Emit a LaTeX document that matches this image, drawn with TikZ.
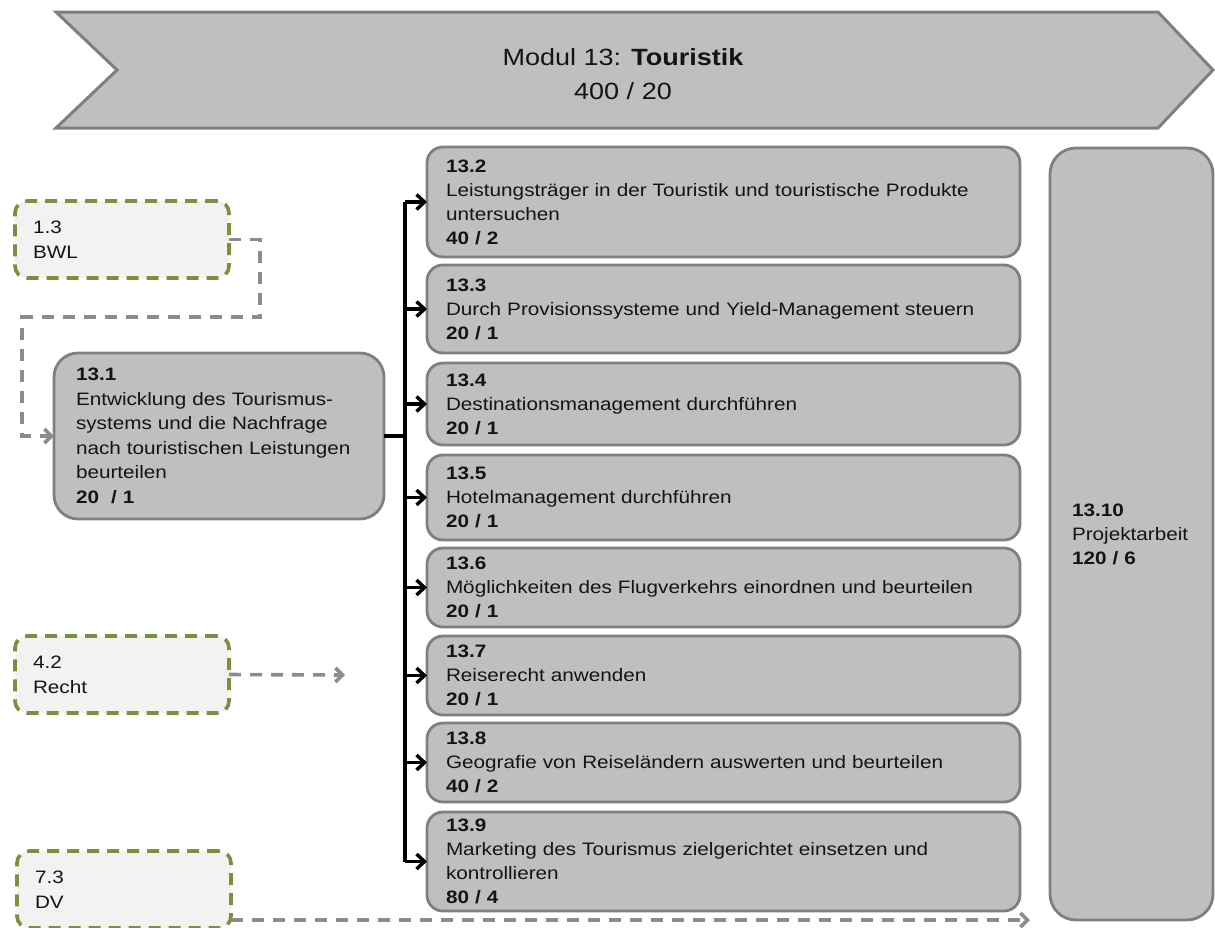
\documentclass[tikz,border=0pt]{standalone}
\usepackage{fontspec}
\setmainfont{Liberation Sans}[FakeStretch=1.15]
\usetikzlibrary{arrows.meta,calc}

\definecolor{boxfill}{HTML}{BFBFBF}
\definecolor{boxline}{HTML}{7F7F7F}
\definecolor{extfill}{HTML}{F2F2F2}
\definecolor{extline}{HTML}{76923C}
\definecolor{dashgray}{HTML}{8C8C8C}
\definecolor{txt}{HTML}{141414}

\begin{document}
\begin{tikzpicture}[x=1pt,y=-1pt,
  banner/.style={draw=boxline, fill=boxfill, line width=3pt, line join=miter},
  modbox/.style={draw=boxline, fill=boxfill, line width=2.8pt, rounded corners=16pt,
    anchor=north west, align=left, inner xsep=19pt, inner ysep=0pt, outer sep=0pt,
    text width=555pt, font=\fontsize{18}{24}\selectfont, text=txt},
  extbox/.style={draw=extline, fill=extfill, line width=3.6pt, dash pattern=on 12pt off 8pt,
    rounded corners=12pt, anchor=north west, align=left, inner xsep=18pt, inner ysep=0pt,
    outer sep=0pt, text width=178pt, minimum height=77pt,
    font=\fontsize{18}{25}\selectfont, text=txt},
  depline/.style={draw=dashgray, line width=3.6pt, dash pattern=on 12pt off 9pt,
    -{Straight Barb[length=7pt,width=14pt]}},
  flow/.style={draw=black, line width=3.4pt},
  flowarrow/.style={flow, -{Straight Barb[length=8pt,width=15pt]}}
]
\useasboundingbox (0,0) rectangle (1215,927);

% module banner
\draw[banner] (56,12) -- (1158,12) -- (1213,70) -- (1158,128) -- (56,128) -- (117,70) -- cycle;
\node[align=center, font=\fontsize{23.5}{34}\selectfont, text=txt] (title) at (623,74)
  {Modul 13: \textbf{Touristik}\\400 / 20};

% prerequisite modules
\node[extbox] (bwl) at (15,201) {1.3\\BWL};
\node[extbox] (recht) at (15,636) {4.2\\Recht};
\node[extbox] (dv) at (17,851) {7.3\\DV};

% entry unit
\node[modbox, rounded corners=24pt, inner xsep=22pt, text width=286pt, minimum height=166pt,
  font=\fontsize{18}{24.5}\selectfont] (m1) at (54,353)
  {\textbf{13.1}\\Entwicklung des Tourismus-\\systems und die Nachfrage\\nach touristischen Leistungen\\beurteilen\\\textbf{20 \ / 1}};

% units 13.2 -- 13.9
\node[modbox, minimum height=110pt] (m2) at (427,147)
  {\textbf{13.2}\\Leistungsträger in der Touristik und touristische Produkte\\untersuchen\\\textbf{40 / 2}};
\node[modbox, minimum height=88pt] (m3) at (427,265)
  {\textbf{13.3}\\Durch Provisionssysteme und Yield-Management steuern\\\textbf{20 / 1}};
\node[modbox, minimum height=82pt] (m4) at (427,363)
  {\textbf{13.4}\\Destinationsmanagement durchführen\\\textbf{20 / 1}};
\node[modbox, minimum height=85pt] (m5) at (427,455)
  {\textbf{13.5}\\Hotelmanagement durchführen\\\textbf{20 / 1}};
\node[modbox, minimum height=79pt] (m6) at (427,548)
  {\textbf{13.6}\\Möglichkeiten des Flugverkehrs einordnen und beurteilen\\\textbf{20 / 1}};
\node[modbox, minimum height=79pt] (m7) at (427,636)
  {\textbf{13.7}\\Reiserecht anwenden\\\textbf{20 / 1}};
\node[modbox, minimum height=79pt] (m8) at (427,723)
  {\textbf{13.8}\\Geografie von Reiseländern auswerten und beurteilen\\\textbf{40 / 2}};
\node[modbox, minimum height=99pt] (m9) at (427,812)
  {\textbf{13.9}\\Marketing des Tourismus zielgerichtet einsetzen und\\kontrollieren\\\textbf{80 / 4}};

% project work
\node[modbox, rounded corners=26pt, inner xsep=22pt, text width=119pt, minimum height=772pt] (m10) at (1050,148)
  {\textbf{13.10}\\Projektarbeit\\\textbf{120 / 6}};

% distribution bus from 13.1
\coordinate (bustop) at (405,202);
\coordinate (busbot) at (405,862);
\draw[flow] (bustop) -- (busbot);
\draw[flow] (m1.east) -- (m1.east -| bustop);
\foreach \m in {m2,m3,m4,m5,m6,m7,m8,m9}
  \draw[flowarrow] (\m.west -| bustop) -- (\m.west);

% links from prerequisite modules
\coordinate (bwlright) at (260,317);
\coordinate (bwlleft) at (22,317);
\draw[depline] (bwl.east) -| (bwlright) -- (bwlleft) |- (m1.west);
\coordinate (rechtend) at (345,675);
\draw[depline] (recht.east) -- (rechtend);
\coordinate (dvstart) at ($(dv.north east)+(0,69)$);
\coordinate (dvend) at (1030,920);
\draw[depline] (dvstart) -- (dvend);
\end{tikzpicture}
\end{document}
